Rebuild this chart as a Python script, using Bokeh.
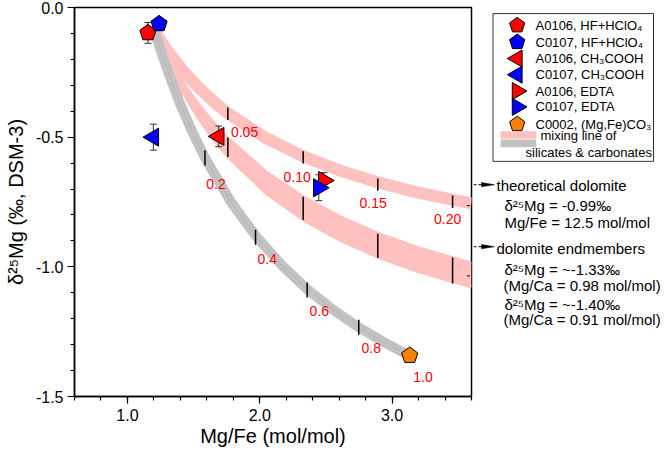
import math
from bokeh.plotting import figure
from bokeh.layouts import row
from bokeh.models import Range1d, FixedTicker, PrintfTickFormatter
from bokeh.core.properties import value
from bokeh.embed import file_html
from bokeh.resources import INLINE

FONT = "Liberation Sans"

# ---------------- data ----------------
sample_labels = ["A0106, HF+HClO\u2084", "C0107, HF+HClO\u2084", "A0106, CH\u2083COOH",
                 "C0107, CH\u2083COOH", "A0106, EDTA", "C0107, EDTA", "C0002, (Mg,Fe)CO\u2083"]
sample_x = [1.155, 1.239, 1.690, 1.196, 2.484, 2.446, 3.133]
sample_y = [-0.098, -0.063, -0.497, -0.500, -0.667, -0.695, -1.342]
sample_err = [0.040, 0.020, 0.040, 0.050, 0.030, 0.050, 0.0]
sample_color = ["#ff0000", "#0000ff", "#ff0000", "#0000ff", "#ff0000", "#0000ff", "#ff8000"]
sample_shape = ["pentagon", "pentagon", "left", "left", "right", "right", "pentagon"]

# theoretical dolomite mixing line (upper pink band, centre line)
dol_x = [1.192, 1.249, 1.306, 1.419, 1.533, 1.646, 1.760, 2.044, 2.328, 2.612, 2.896, 3.180, 3.464, 3.600]
dol_y = [-0.080, -0.126, -0.169, -0.243, -0.306, -0.360, -0.408, -0.503, -0.574, -0.630, -0.675, -0.712, -0.742, -0.755]
# dolomite endmembers mixing band (lower pink band, upper and lower edges)
end_top = [-0.080, -0.138, -0.192, -0.288, -0.370, -0.441, -0.504, -0.632, -0.730, -0.808, -0.871, -0.923, -0.966, -0.985]
end_bot = [-0.080, -0.152, -0.217, -0.330, -0.425, -0.506, -0.576, -0.715, -0.819, -0.899, -0.963, -1.015, -1.058, -1.077]

# silicate - (Mg,Fe)CO3 mixing line (grey band)
mix_x = [1.200, 1.248, 1.297, 1.393, 1.490, 1.587, 1.780, 1.973, 2.167, 2.360, 2.553, 2.747, 2.940, 3.133]
mix_y = [-0.080, -0.160, -0.233, -0.365, -0.479, -0.580, -0.748, -0.883, -0.994, -1.087, -1.165, -1.233, -1.291, -1.343]

# fraction ticks on the pink bands
pink_tick_x = [1.759, 2.328, 2.892, 3.457]
pink_tick_upper_y = [-0.410, -0.578, -0.683, -0.749]
pink_tick_lower_top = [-0.501, -0.730, -0.872, -0.964]
pink_tick_lower_bot = [-0.576, -0.819, -0.966, -1.064]
pink_frac_labels = ["0.05", "0.10", "0.15", "0.20"]
pink_label_x = [1.885, 2.283, 2.857, 3.420]
pink_label_y = [-0.479, -0.653, -0.752, -0.816]

# fraction ticks on the grey band
grey_tick_x = [1.586, 1.968, 2.358, 2.748]
grey_tick_y = [-0.580, -0.886, -1.089, -1.233]
grey_frac_labels = ["0.2", "0.4", "0.6", "0.8", "1.0"]
grey_label_x = [1.669, 2.057, 2.449, 2.842, 3.234]
grey_label_y = [-0.679, -0.968, -1.170, -1.314, -1.424]

# axes ticks
x_major = [1.0, 2.0, 3.0]
x_minor = [0.6, 0.8, 1.0, 1.2, 1.4, 1.6, 1.8, 2.0, 2.2, 2.4, 2.6, 2.8, 3.0, 3.2, 3.4, 3.6]
y_major = [0.0, -0.5, -1.0, -1.5]
y_minor = [0.0, -0.1, -0.2, -0.3, -0.4, -0.5, -0.6, -0.7, -0.8, -0.9, -1.0,
           -1.1, -1.2, -1.3, -1.4, -1.5]

# values pointed at by the right-hand arrows
arrow_y = [-0.764, -1.035]

annot_lines = ["theoretical dolomite", "\u03b4\u00b2\u2075Mg = -0.99\u2030", "Mg/Fe = 12.5 mol/mol",
               "dolomite endmembers", "\u03b4\u00b2\u2075Mg = ~-1.33\u2030", "(Mg/Ca = 0.98 mol/mol)",
               "\u03b4\u00b2\u2075Mg = ~-1.40\u2030", "(Mg/Ca = 0.91 mol/mol)"]

PINK = "#ffc0c0"
GREY = "#c2c2c2"

# ---------------- main plot ----------------
p = figure(width=473, height=450, x_range=Range1d(0.6, 3.6), y_range=Range1d(-1.5, 0.0),
           output_backend="svg", toolbar_location=None,
           min_border_left=74, min_border_right=2, min_border_top=7, min_border_bottom=54)
p.grid.visible = False
p.outline_line_color = "black"
p.outline_line_width = 1.5
p.xaxis.ticker = FixedTicker(ticks=x_major, minor_ticks=x_minor)
p.yaxis.ticker = FixedTicker(ticks=y_major, minor_ticks=y_minor)
p.axis.formatter = PrintfTickFormatter(format="%.1f")
p.xaxis.axis_label = "Mg/Fe (mol/mol)"
p.yaxis.axis_label = "\u03b4\u00b2\u2075Mg (\u2030, DSM-3)"
for ax in (p.xaxis[0], p.yaxis[0]):
    ax.axis_line_width = 1.5
    ax.axis_line_color = "black"
    ax.major_tick_line_color = "black"
    ax.minor_tick_line_color = "black"
    ax.major_tick_line_width = 1.2
    ax.minor_tick_line_width = 1.2
    ax.major_tick_in = 0
    ax.major_tick_out = 7
    ax.minor_tick_in = 0
    ax.minor_tick_out = 4
    ax.major_label_text_font = FONT
    ax.major_label_text_font_size = "16px"
    ax.major_label_text_color = "black"
    ax.axis_label_text_font = FONT
    ax.axis_label_text_font_size = "20px"
    ax.axis_label_text_font_style = "normal"
    ax.axis_label_text_color = "black"
p.xaxis.major_label_standoff = 5
p.xaxis.axis_label_standoff = 1
p.yaxis.major_label_standoff = 4
p.yaxis.axis_label_standoff = 6

# pink bands
p.varea(x=dol_x, y1=end_top, y2=end_bot, fill_color=PINK)
p.line(x=dol_x, y=end_top, line_color=PINK, line_width=3)
p.line(x=dol_x, y=end_bot, line_color=PINK, line_width=3)
p.line(x=dol_x, y=dol_y, line_color=PINK, line_width=12, line_join="round")
# grey band
p.line(x=mix_x, y=mix_y, line_color=GREY, line_width=10, line_join="round")
p.line(x=mix_x, y=mix_y, line_color="#b8b8b8", line_width=1)

# fraction ticks
p.segment(x0=pink_tick_x, x1=pink_tick_x,
          y0=[v - 0.024 for v in pink_tick_upper_y], y1=[v + 0.024 for v in pink_tick_upper_y],
          line_color="black", line_width=1.5)
p.segment(x0=pink_tick_x, x1=pink_tick_x, y0=pink_tick_lower_bot, y1=pink_tick_lower_top,
          line_color="black", line_width=1.5)
p.segment(x0=grey_tick_x, x1=grey_tick_x,
          y0=[v - 0.029 for v in grey_tick_y], y1=[v + 0.029 for v in grey_tick_y],
          line_color="black", line_width=1.5)

# fraction labels
txt = dict(text_color="#ff0000", text_font=value(FONT), text_font_size=value("14px"),
           text_align="center", text_baseline="middle")
p.text(x=pink_label_x, y=pink_label_y, text=pink_frac_labels, **txt)
p.text(x=grey_label_x, y=grey_label_y, text=grey_frac_labels, **txt)

# arrows starting inside the frame
x_end = p.x_range.end
p.segment(x0=[x_end - 0.035] * len(arrow_y), x1=[x_end] * len(arrow_y), y0=arrow_y, y1=arrow_y,
          line_color="black", line_width=1, line_dash="3 2")

# error bars
ex, elo, ehi = [], [], []
for xv, yv, ev in zip(sample_x, sample_y, sample_err):
    if ev > 0:
        ex.append(xv); elo.append(yv - ev); ehi.append(yv + ev)
p.segment(x0=ex, x1=ex, y0=elo, y1=ehi, line_color="#303030", line_width=1)
p.scatter(x=ex + ex, y=elo + ehi, marker="dash", size=7, line_color="#303030", line_width=1)

HAS_NGON = hasattr(p, "ngon")


def draw_marker(fig, xs, ys, shape, color, pent_r=8.5, tri_size=18):
    if shape == "pentagon":
        if HAS_NGON:
            fig.ngon(x=xs, y=ys, radius=pent_r, radius_units="screen", n=5, angle=0,
                     fill_color=color, line_color="black", line_width=1)
        else:
            fig.scatter(x=xs, y=ys, marker="hex", size=2 * pent_r, fill_color=color,
                        line_color="black", line_width=1)
    else:
        ang = math.pi / 2 if shape == "left" else -math.pi / 2
        fig.scatter(x=xs, y=ys, marker="triangle", size=tri_size, angle=ang,
                    fill_color=color, line_color="black", line_width=1)


for i in range(len(sample_x)):
    draw_marker(p, [sample_x[i]], [sample_y[i]], sample_shape[i], sample_color[i])

# ---------------- right panel: legend and notes (page-pixel coordinates, y negated) ----------------
lg = figure(width=193, height=450, x_range=Range1d(473, 666), y_range=Range1d(-450, 0),
            output_backend="svg", toolbar_location=None, min_border=0,
            x_axis_location=None, y_axis_location=None)
lg.outline_line_color = None
lg.grid.visible = False

lg.quad(left=[492.5], right=[653], top=[-7], bottom=[-178], fill_color="white",
        line_color="#333333", line_width=1)
row_y = [-20.7, -40.0, -59.0, -77.7, -96.7, -115.0, -135.0]
for i in range(len(sample_labels)):
    draw_marker(lg, [516.7], [row_y[i]], sample_shape[i], sample_color[i], pent_r=8, tri_size=17)
lg.text(x=[535] * len(sample_labels), y=row_y, text=sample_labels, text_font=value(FONT),
        text_font_size=value("13px"), text_align="left", text_baseline="middle", text_color="black")
lg.quad(left=[500], right=[535.7], top=[-143.3], bottom=[-151.9], fill_color=PINK, line_color=None)
lg.quad(left=[500], right=[535.7], top=[-152.7], bottom=[-161.7], fill_color=GREY, line_color=None)
lg.text(x=[540, 525], y=[-148.3, -168.3], text=["mixing line of", "silicates & carbonates"],
        text_font=value(FONT), text_font_size=value("13px"), text_align="left",
        text_baseline="middle", text_color="black")

# arrows to the notes
arrow_py = [-205.0, -276.7]
lg.segment(x0=[473] * 2, x1=[482] * 2, y0=arrow_py, y1=arrow_py, line_color="black",
           line_width=1, line_dash="3 2")
lg.patches(xs=[[481, 494, 481] for _ in arrow_py], ys=[[v + 2.5, v, v - 2.5] for v in arrow_py],
           fill_color="black", line_color="black", line_width=0.5)

annot_x = [496, 504, 504, 496, 504, 503, 504, 503]
annot_py = [-206, -229.3, -248.3, -279.3, -303.3, -321.7, -343.3, -361]
lg.text(x=annot_x, y=annot_py, text=annot_lines, text_font=value(FONT),
        text_font_size=value("15px"), text_align="left", text_baseline="middle", text_color="black")

layout = row(p, lg)
open("out.html", "w").write(file_html(layout, INLINE))
